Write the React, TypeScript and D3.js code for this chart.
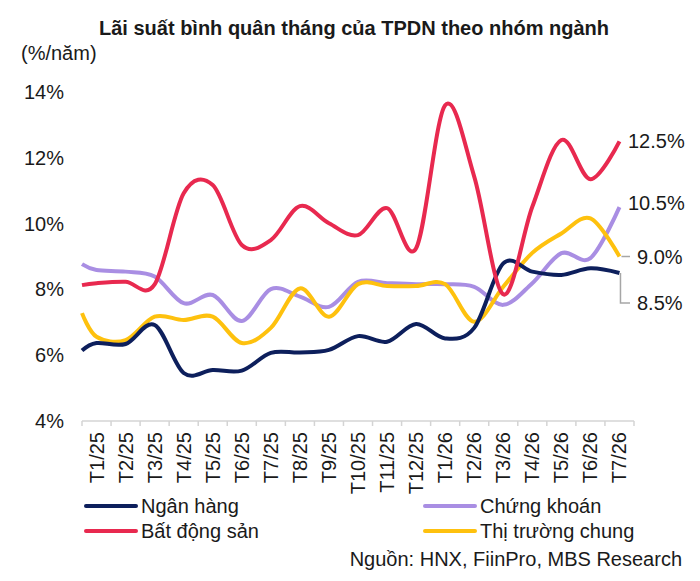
import React from "react";
import * as d3 from "d3";

// categories (months)
const months = [
  "T1/25", "T2/25", "T3/25", "T4/25", "T5/25", "T6/25", "T7/25", "T8/25", "T9/25",
  "T10/25", "T11/25", "T12/25", "T1/26", "T2/26", "T3/26", "T4/26", "T5/26", "T6/26", "T7/26",
];

// series values (%/năm)
const nganHang = [6.37, 6.34, 6.92, 5.46, 5.55, 5.53, 6.07, 6.08, 6.16, 6.58, 6.41, 6.95, 6.51, 6.83, 8.79, 8.54, 8.44, 8.64, 8.5];
const batDongSan = [8.19, 8.23, 8.15, 10.92, 11.17, 9.35, 9.5, 10.53, 10.01, 9.65, 10.47, 9.25, 13.6, 11.43, 7.85, 10.51, 12.54, 11.35, 12.5];
const chungKhoan = [8.59, 8.54, 8.39, 7.58, 7.83, 7.04, 8.01, 7.78, 7.47, 8.23, 8.19, 8.16, 8.16, 8.08, 7.53, 8.19, 9.1, 8.95, 10.5];
const thiTruong = [6.56, 6.46, 7.17, 7.07, 7.17, 6.37, 6.83, 8.03, 7.17, 8.16, 8.1, 8.1, 8.16, 7.02, 8.08, 9.11, 9.7, 10.16, 9.0];

// value where each line enters at the left edge of the axis (chart is cropped there)
const leadIn = [6.14, 8.13, 8.77, 7.28];

const seriesNames = ["Ngân hàng", "Bất động sản", "Chứng khoán", "Thị trường chung"];
const seriesValues = [nganHang, batDongSan, chungKhoan, thiTruong];
const colors = ["#0d1f5c", "#e8294f", "#a98ee3", "#fec10e"];

const yTicks = [4, 6, 8, 10, 12, 14];
const endLabels = ["8.5%", "12.5%", "10.5%", "9.0%"];

const FONT = "'Liberation Sans', Arial, sans-serif";

export default function App() {
  const width = 700;
  const height = 581;

  const x = d3.scaleBand<string>().domain(months).range([82, 634]);
  const bw = x.bandwidth();
  const y = d3.scaleLinear().domain([4, 14]).range([421, 92]);

  const cx = (m: string) => (x(m) ?? 0) + bw / 2;

  const line = d3
    .line<[number, number]>()
    .x((d) => d[0])
    .y((d) => d[1])
    .curve(d3.curveCardinal.tension(0));

  const paths = seriesValues.map((vals, si) => {
    const pts: [number, number][] = [[x(months[0]) ?? 0, y(leadIn[si])]];
    vals.forEach((v, i) => pts.push([cx(months[i]), y(v)]));
    return line(pts) ?? "";
  });

  const tickXs = d3.range(months.length + 1).map((i) => (x(months[0]) ?? 0) + i * bw);
  const lastX = cx(months[months.length - 1]);
  const last = (si: number) => seriesValues[si][seriesValues[si].length - 1];

  // draw order: purple, yellow, navy, red on top-ish
  const order = [2, 3, 0, 1];

  return (
    <svg
      width={width}
      height={height}
      style={{ position: "absolute", left: 0, top: 0, background: "#fff" }}
      fontFamily={FONT}
    >
      <text x={354} y={35} textAnchor="middle" fontSize={20} fontWeight="bold" fill="#1a1a1a">
        Lãi suất bình quân tháng của TPDN theo nhóm ngành
      </text>
      <text x={21} y={60} fontSize={20} fill="#1a1a1a">
        (%/năm)
      </text>

      {yTicks.map((t) => (
        <text key={t} x={64} y={y(t)} dy="0.35em" textAnchor="end" fontSize={20} fill="#1a1a1a">
          {t}%
        </text>
      ))}

      {/* x axis */}
      <line x1={tickXs[0]} x2={tickXs[tickXs.length - 1]} y1={421} y2={421} stroke="#d4d4d4" strokeWidth={1.5} />
      {tickXs.map((tx, i) => (
        <line key={i} x1={tx} x2={tx} y1={421} y2={426} stroke="#d4d4d4" strokeWidth={1.5} />
      ))}
      {months.map((m) => (
        <text
          key={m}
          transform={`translate(${cx(m)},432) rotate(-90)`}
          dy="0.35em"
          textAnchor="end"
          fontSize={20}
          fill="#1a1a1a"
        >
          {m}
        </text>
      ))}

      {/* lines */}
      {order.map((si) => (
        <path
          key={si}
          d={paths[si]}
          fill="none"
          stroke={colors[si]}
          strokeWidth={4}
          strokeLinejoin="round"
        />
      ))}

      {/* end labels */}
      <text x={628} y={y(last(1))} dy="0.35em" fontSize={20} fill="#1a1a1a">{endLabels[1]}</text>
      <text x={628} y={y(last(2)) - 4} dy="0.35em" fontSize={20} fill="#1a1a1a">{endLabels[2]}</text>
      <path d={`M${lastX + 2},${y(last(3))}H630`} stroke="#a6a6a6" strokeWidth={1.5} fill="none" />
      <text x={637} y={y(last(3))} dy="0.35em" fontSize={20} fill="#1a1a1a">{endLabels[3]}</text>
      <path d={`M${lastX + 1},${y(last(0))}V${y(last(0)) + 30}H630`} stroke="#a6a6a6" strokeWidth={1.5} fill="none" />
      <text x={637} y={y(last(0)) + 30} dy="0.35em" fontSize={20} fill="#1a1a1a">{endLabels[0]}</text>

      {/* legend */}
      {[0, 2, 1, 3].map((si, k) => {
        const col = k % 2;
        const row = Math.floor(k / 2);
        const lx = col === 0 ? 86 : 425;
        const ly = 506 + row * 25;
        return (
          <g key={si}>
            <line x1={lx} x2={lx + 50} y1={ly} y2={ly} stroke={colors[si]} strokeWidth={4} strokeLinecap="round" />
            <text x={lx + 55} y={ly} dy="0.35em" fontSize={20} fill="#1a1a1a">
              {seriesNames[si]}
            </text>
          </g>
        );
      })}

      <text x={682} y={566} textAnchor="end" fontSize={20} fill="#1a1a1a">
        Nguồn: HNX, FiinPro, MBS Research
      </text>
    </svg>
  );
}
